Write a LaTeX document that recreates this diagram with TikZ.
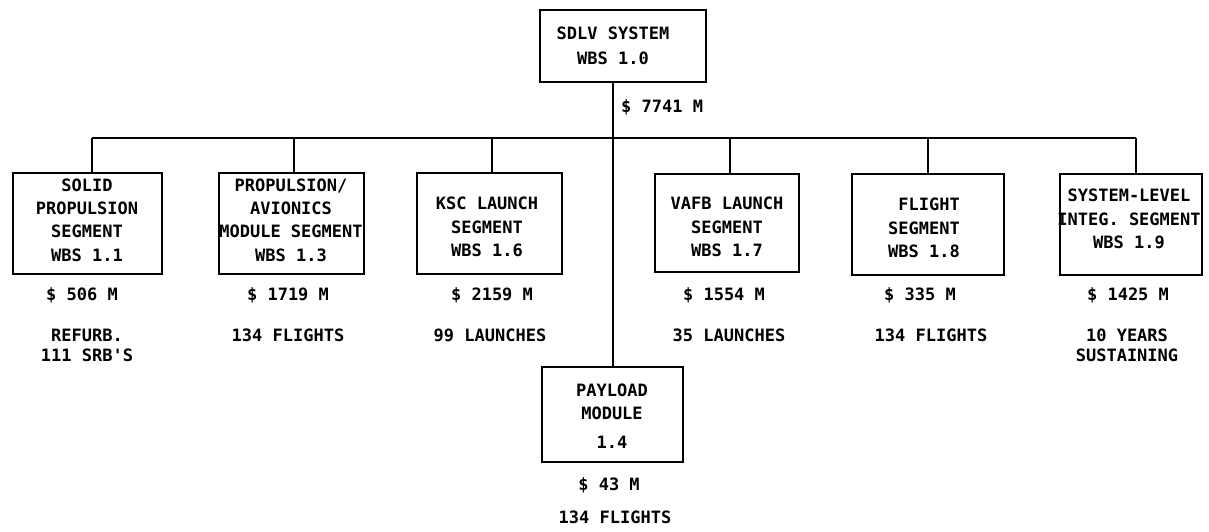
\documentclass[tikz,border=0pt]{standalone}
\usepackage{fontspec}
\setmonofont{DejaVu Sans Mono}
\begin{document}
\begin{tikzpicture}[x=1pt,y=-1pt,
  font=\ttfamily\bfseries\fontsize{17}{23.3}\selectfont,
  box/.style={draw, line width=2.8pt, align=center, inner sep=0pt},
  wire/.style={line width=2pt},
  lbl/.style={align=center, inner sep=0pt}]
\useasboundingbox[fill=white] (0,0) rectangle (1209,532);

% top box
\node[box, minimum width=166pt, minimum height=72pt] (top) at (623,46) {};
\node[lbl, font=\ttfamily\bfseries\fontsize{17}{25}\selectfont] (toptxt) at (613,46) {SDLV SYSTEM\\WBS 1.0};
\node[lbl, anchor=west] (total) at (621,107) {\$ 7741 M};

% segment boxes
\node[box, minimum width=149pt, minimum height=101pt] (b1) at (87.5,223.5) {};
\node[lbl] (t1) at (87,220) {SOLID\\PROPULSION\\SEGMENT\\WBS 1.1};
\node[box, minimum width=145pt, minimum height=101pt] (b2) at (291.5,223.5) {};
\node[lbl] (t2) at (291,220) {PROPULSION/\\AVIONICS\\MODULE SEGMENT\\WBS 1.3};
\node[box, minimum width=145pt, minimum height=101pt] (b3) at (489.5,223.5) {};
\node[lbl] (t3) at (487,227) {KSC LAUNCH\\SEGMENT\\WBS 1.6};
\node[box, minimum width=144pt, minimum height=98pt] (b4) at (727,223) {};
\node[lbl] (t4) at (727,227) {VAFB LAUNCH\\SEGMENT\\WBS 1.7};
\node[box, minimum width=152pt, minimum height=101pt] (b5) at (928,224.5) {};
\node[lbl] (t5) at (924,228) {\hphantom{ }FLIGHT\\SEGMENT\\WBS 1.8};
\node[box, minimum width=142pt, minimum height=101pt] (b6) at (1131,224.5) {};
\node[lbl] (t6) at (1129,219) {SYSTEM-LEVEL\\INTEG. SEGMENT\\WBS 1.9};

% payload box
\node[box, minimum width=141pt, minimum height=95pt] (pl) at (612.5,414.5) {};
\node[lbl] (tpl) at (612,416) {PAYLOAD\\MODULE\\[6pt]1.4};

% wiring
\coordinate (d1) at (92,138);
\coordinate (d2) at (294,138);
\coordinate (d3) at (492,138);
\coordinate (d4) at (730,138);
\coordinate (d5) at (928,138);
\coordinate (d6) at (1136,138);
\draw[wire] (d1) -- (d6);
\draw[wire] (d1) -- (d1 |- b1.north);
\draw[wire] (d2) -- (d2 |- b2.north);
\draw[wire] (d3) -- (d3 |- b3.north);
\draw[wire] (d4) -- (d4 |- b4.north);
\draw[wire] (d5) -- (d5 |- b5.north);
\draw[wire] (d6) -- (d6 |- b6.north);
\draw[wire] (pl.north |- top.south) -- (pl.north);

% costs
\node[lbl] (c1) at (82,295) {\$ 506 M};
\node[lbl] (c2) at (288,295) {\$ 1719 M};
\node[lbl] (c3) at (492,295) {\$ 2159 M};
\node[lbl] (c4) at (724,295) {\$ 1554 M};
\node[lbl] (c5) at (920,295) {\$ 335 M};
\node[lbl] (c6) at (1128,295) {\$ 1425 M};
\node[lbl] (c7) at (609,485) {\$ 43 M};

% quantities
\node[lbl, font=\ttfamily\bfseries\fontsize{17}{20}\selectfont] (q1) at (87,345) {REFURB.\\111 SRB'S};
\node[lbl] (q2) at (288,335) {134 FLIGHTS};
\node[lbl] (q3) at (490,335) {99 LAUNCHES};
\node[lbl] (q4) at (729,335) {35 LAUNCHES};
\node[lbl] (q5) at (931,335) {134 FLIGHTS};
\node[lbl, font=\ttfamily\bfseries\fontsize{17}{20}\selectfont] (q6) at (1127,345) {10 YEARS\\SUSTAINING};
\node[lbl] (q7) at (615,517) {134 FLIGHTS};
\end{tikzpicture}
\end{document}
